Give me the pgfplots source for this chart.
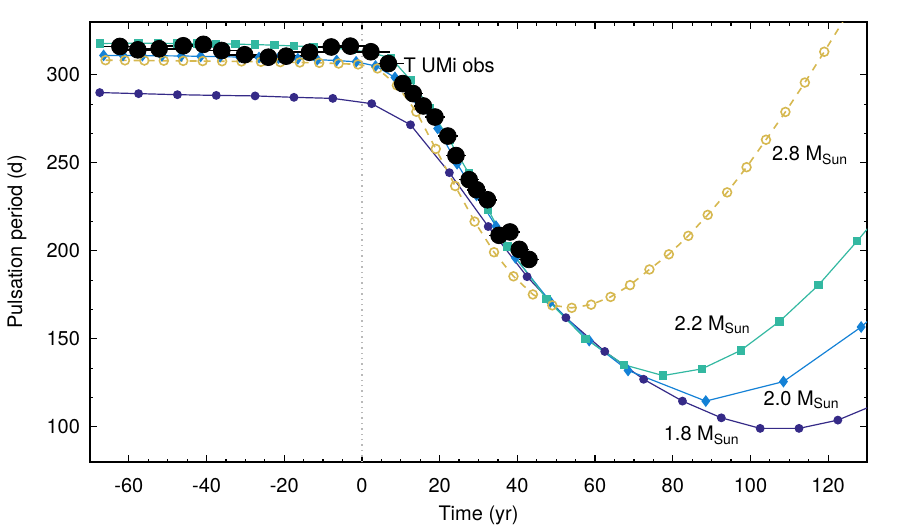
\documentclass[border=0pt]{standalone}
\usepackage{fontspec}
\setmainfont{TeX Gyre Heros}
\usepackage{pgfplots}
\usepackage{pgfplotstable}
\pgfplotsset{compat=1.18}
\definecolor{c18}{RGB}{53,42,135}
\definecolor{c20}{RGB}{20,129,214}
\definecolor{c22}{RGB}{51,184,161}
\definecolor{c28}{RGB}{214,184,80}

\pgfplotstableread{
x y
-67.5 289.9
-57.5 289.3
-47.5 288.7
-37.5 288.3
-27.5 288.0
-17.5 287.2
-7.5 286.6
2.5 283.6
12.5 271.6
22.5 244.4
32.5 213.8
42.5 185.3
52.5 162.0
62.5 142.8
72.5 127.0
82.5 114.6
92.5 105.1
102.5 99.1
112.5 99.1
122.5 103.8
132.5 113.0
}\tabA

\pgfplotstableread{
x y
-66.5 311.0
-61.5 311.0
-56.5 310.9
-51.5 310.8
-46.5 310.7
-41.5 310.5
-36.5 310.3
-31.5 310.1
-26.5 309.8
-21.5 309.5
-16.5 309.1
-11.5 308.6
-6.5 308.1
-1.5 307.4
3.5 305.0
8.5 298.5
14.0 286.0
19.5 269.5
24.5 249.5
29.5 231.5
34.5 214.0
39.5 196.0
48.5 171.0
58.5 149.0
68.5 132.0
88.5 114.6
108.5 125.7
128.5 156.7
148.5 196.0
}\tabB

\pgfplotstableread{
x y
-67.5 317.8
-62.5 317.9
-57.5 318.0
-52.5 317.9
-47.5 317.8
-42.5 317.7
-37.5 317.6
-32.5 317.4
-27.5 317.2
-22.5 316.8
-17.5 316.4
-12.5 315.9
-7.5 315.2
-2.5 314.2
2.5 312.5
7.5 309.5
12.5 297.0
17.5 281.0
22.5 263.0
27.5 244.0
32.5 223.5
37.5 202.4
47.5 172.7
57.5 150.0
67.5 135.2
77.5 129.1
87.5 132.9
97.5 143.4
107.5 159.9
117.5 180.5
127.5 205.6
137.5 232.0
}\tabC

\pgfplotstableread{
x y
-66 308.3
-61 308.2
-56 308.1
-51 308.0
-46 307.9
-41 307.8
-36 307.7
-31 307.6
-26 307.4
-21 307.2
-16 307.0
-11 306.8
-6 306.4
-1 305.9
4 303.6
9 294.0
14 279.0
19 257.9
24 236.8
29 216.6
34 199.2
39 185.5
44 175.2
49 169.0
54 167.6
59 169.4
64 173.8
69 180.5
74 189.4
79 198.0
84 208.5
89 220.4
94 233.2
99 247.5
104 263.1
109 278.9
114 295.6
119 313.1
124 331.0
129 349.0
}\tabD

\pgfplotstableread{
x y e
-62.3 316.1 5
-57.7 314.2 5
-52.2 314.8 5
-46.0 316.5 5
-40.8 317.3 5
-36.1 313.8 5
-30.2 311.4 5
-24.1 310.0 5
-19.5 310.6 5
-13.5 312.8 5
-7.9 315.8 5
-3.0 316.3 5
2.3 313.1 5
6.8 306.4 4
10.5 295.0 2.5
13.2 289.3 2.5
15.8 282.3 2.5
18.8 276.0 2.5
22.1 265.2 2.5
24.2 254.1 2.5
27.6 240.4 2.5
29.5 234.7 2.5
32.3 229.0 2.5
35.3 208.8 2.5
38.1 210.7 2.5
40.5 200.8 2.5
43.0 195.1 2.5
}\tabObs

\begin{document}
\begin{tikzpicture}
\useasboundingbox (-45pt,-31.5pt) rectangle (405pt,231pt);
\begin{axis}[
  at={(0pt,0pt)}, anchor=south west,
  scale only axis, width=388.5pt, height=220pt,
  xmin=-70, xmax=130, ymin=80, ymax=330,
  xtick={-60,-40,...,120}, ytick={100,150,...,300},
  minor x tick num=3, minor y tick num=2,
  tick align=inside, tick pos=both,
  major tick length=3.5pt, minor tick length=1.75pt,
  axis line style={line width=0.75pt},
  every tick/.style={black, line width=0.6pt},
  /pgf/number format/assume math mode=true,
  xticklabel style={yshift=-4.5pt},
  yticklabel style={xshift=-1.5pt},
  xlabel={Time (yr)}, ylabel={Pulsation period (d)},
  xlabel style={at={(axis description cs:0.5,0)}, anchor=center, yshift=-26.5pt},
  ylabel style={at={(axis description cs:0,0.5)}, anchor=center, yshift=36.5pt},
]
\addplot[gray!55, dotted, line width=0.7pt, forget plot] coordinates {(0,80) (0,330)};

\addplot[c18, line width=0.6pt, mark=*, mark size=1.9pt, mark options={solid, fill=c18}] table[x=x,y=y] {\tabA};
\addplot[c20, line width=0.6pt, mark=diamond*, mark size=2.5pt, mark options={solid, fill=c20}] table[x=x,y=y] {\tabB};
\addplot[c22, line width=0.6pt, mark=square*, mark size=1.8pt, mark options={solid, fill=c22}] table[x=x,y=y] {\tabC};
\addplot[c28, line width=0.8pt, dash pattern=on 3.5pt off 3.5pt, mark=o, mark size=2.2pt, mark options={solid, line width=0.8pt}] table[x=x,y=y] {\tabD};

\addplot[only marks, black, mark=*, mark size=4.2pt,
  error bars/.cd, x dir=both, x explicit, error mark=none,
  error bar style={line width=0.8pt, black}]
  table[x=x, y=y, x error=e] {\tabObs};

\node[anchor=west, inner sep=0pt] at (axis cs:10.6,305.3) {T UMi obs};
\node[anchor=west, inner sep=0pt] at (axis cs:105.5,254.1) {2.8 M\textsubscript{Sun}};
\node[anchor=west, inner sep=0pt] at (axis cs:80.4,158) {2.2 M\textsubscript{Sun}};
\node[anchor=west, inner sep=0pt] at (axis cs:103.3,115.2) {2.0 M\textsubscript{Sun}};
\node[anchor=west, inner sep=0pt] at (axis cs:77.6,95.2) {1.8 M\textsubscript{Sun}};
\end{axis}
\end{tikzpicture}
\end{document}
